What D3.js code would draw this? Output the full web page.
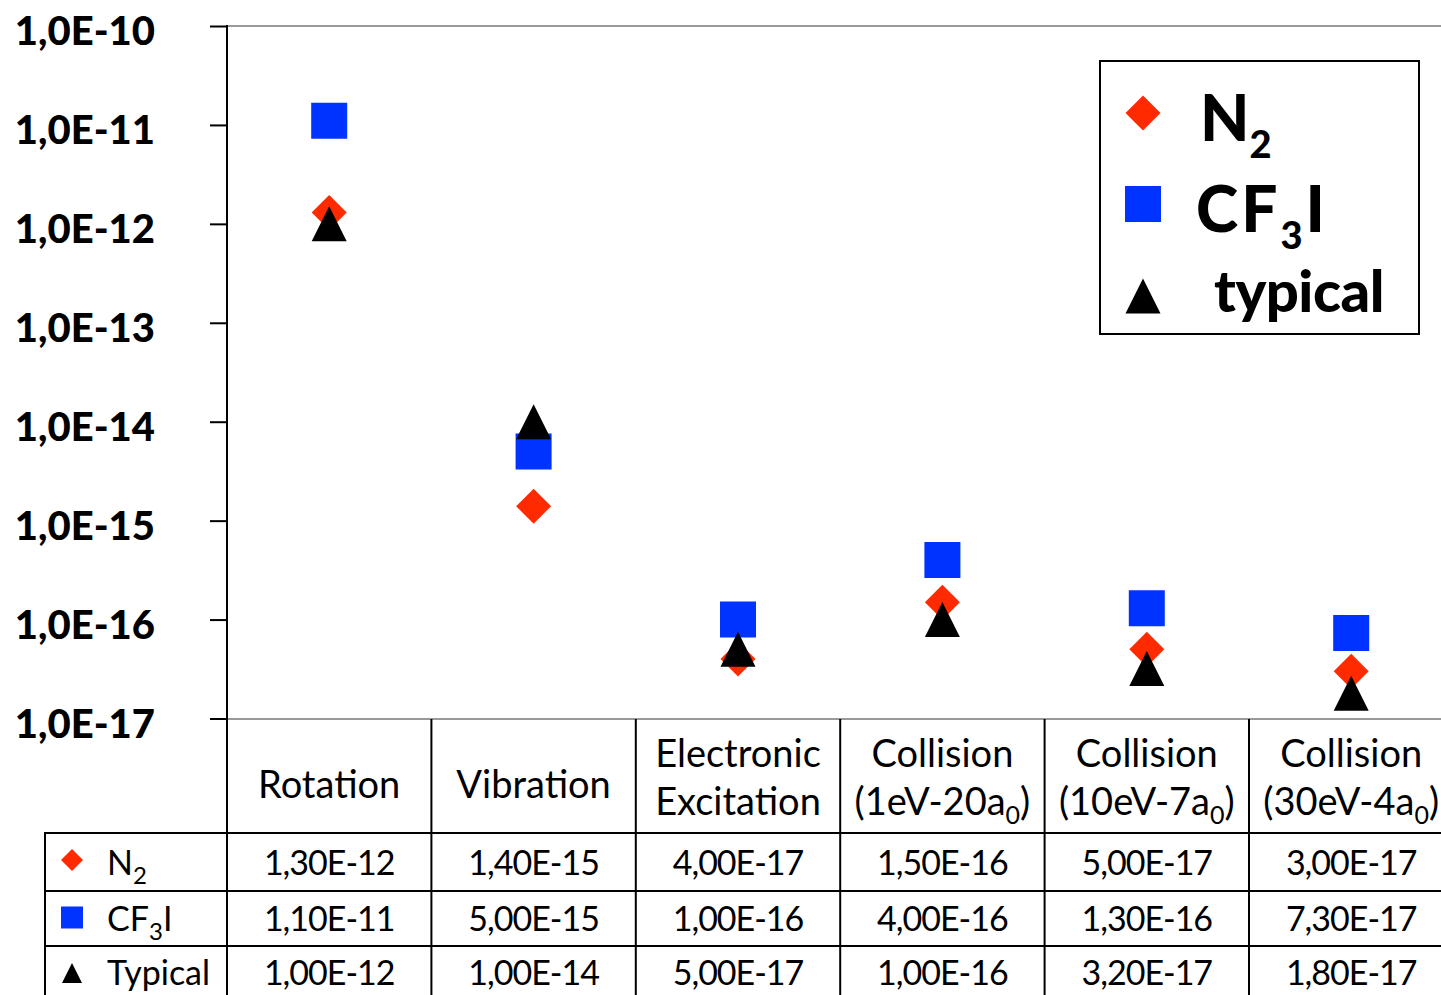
<!DOCTYPE html>
<html>
<head>
<meta charset="utf-8">
<script src="https://cdn.jsdelivr.net/npm/d3@7/dist/d3.min.js"></script>
<style>
  html, body { margin: 0; padding: 0; background: #fff; }
  svg { display: block; }
</style>
</head>
<body>
<svg id="chart" width="1441" height="995"></svg>
<script>
// ---------------- DATA ----------------
const categories = [
  ["Rotation"],
  ["Vibration"],
  ["Electronic", "Excitation"],
  ["Collision", "(1eV-20a_0)"],
  ["Collision", "(10eV-7a_0)"],
  ["Collision", "(30eV-4a_0)"]
];
const n2Values      = [1.3e-12, 1.4e-15, 4.0e-17, 1.5e-16, 5.0e-17, 3.0e-17];
const cf3iValues    = [1.1e-11, 5.0e-15, 1.0e-16, 4.0e-16, 1.3e-16, 7.3e-17];
const typicalValues = [1.0e-12, 1.0e-14, 5.0e-17, 1.0e-16, 3.2e-17, 1.8e-17];
const yTickValues   = [1e-10, 1e-11, 1e-12, 1e-13, 1e-14, 1e-15, 1e-16, 1e-17];
const seriesNames   = ["N2", "CF3I", "Typical"];

// ---------------- SETUP ----------------
const svg = d3.select("#chart");
const W = 1441, H = 995;
const FONT = "Lato, 'Open Sans', sans-serif";
const RED = "#ff2a00", BLUE = "#0033ff", BLACK = "#000";

const plotLeft = 227, colW = 204.4;
const plotRight = plotLeft + colW * categories.length;
const yTop = 26, yBottom = 718.5;

const x = d3.scaleBand().domain(d3.range(categories.length)).range([plotLeft, plotRight]).padding(0);
const y = d3.scaleLog().domain([1e-17, 1e-10]).range([yBottom, yTop]);

const sciFmt = (digits) => (v) => d3.format("." + digits + "e")(v).replace(".", ",").replace("e", "E");

// custom symbols
const diamondType = { draw(ctx, size) { const r = Math.sqrt(size) / 2; ctx.moveTo(0, -r); ctx.lineTo(r, 0); ctx.lineTo(0, r); ctx.lineTo(-r, 0); ctx.closePath(); } };
const triangleType = { draw(ctx, size) { const r = Math.sqrt(size) / 2; ctx.moveTo(0, -r); ctx.lineTo(r, r); ctx.lineTo(-r, r); ctx.closePath(); } };
const squareType = d3.symbolSquare;

const series = [
  { name: seriesNames[0], values: n2Values, type: diamondType, color: RED, size: 35 * 35 },
  { name: seriesNames[1], values: cf3iValues, type: squareType, color: BLUE, size: 36 * 36 },
  { name: seriesNames[2], values: typicalValues, type: triangleType, color: BLACK, size: 35 * 35 }
];

// ---------------- GRID / AXES ----------------
svg.append("line").attr("x1", plotLeft).attr("x2", W).attr("y1", y(1e-10)).attr("y2", y(1e-10))
  .attr("stroke", "#999").attr("stroke-width", 2);
svg.append("line").attr("x1", plotLeft).attr("x2", W).attr("y1", yBottom + 0.5).attr("y2", yBottom + 0.5)
  .attr("stroke", "#999").attr("stroke-width", 2);

const yAxis = d3.axisLeft(y).tickValues(yTickValues).tickFormat(sciFmt(1)).tickSize(17).tickPadding(55);
const gy = svg.append("g").attr("transform", `translate(${plotLeft},0)`).call(yAxis);
gy.select(".domain").remove();
gy.selectAll(".tick line").attr("stroke", BLACK).attr("stroke-width", 2);
gy.selectAll(".tick text")
  .attr("font-family", FONT).attr("font-weight", 900).attr("font-size", 40)
  .attr("fill", BLACK).attr("dy", "0.47em");

// ---------------- MARKERS ----------------
series.forEach(s => {
  svg.append("g").selectAll("path").data(s.values).join("path")
    .attr("d", d3.symbol().type(s.type).size(s.size))
    .attr("transform", (d, i) => `translate(${x(i) + x.bandwidth() / 2},${y(d)})`)
    .attr("fill", s.color);
});

// ---------------- LEGEND ----------------
function appendParts(textSel, parts, subSize, shift) {
  let shifted = false;
  parts.forEach(([str, sub]) => {
    const ts = textSel.append("tspan").text(str);
    if (sub) { ts.attr("font-size", subSize).attr("dy", shift); shifted = true; }
    else if (shifted) { ts.attr("dy", -shift); shifted = false; }
  });
}
function parseMarkup(str) {
  const out = [];
  const re = /_(.)/g; let last = 0, m;
  while ((m = re.exec(str)) !== null) {
    if (m.index > last) out.push([str.slice(last, m.index), false]);
    out.push([m[1], true]);
    last = m.index + 2;
  }
  if (last < str.length) out.push([str.slice(last), false]);
  return out;
}

const lg = svg.append("g");
lg.append("rect").attr("x", 1100).attr("y", 61).attr("width", 319).attr("height", 273)
  .attr("fill", "#fff").attr("stroke", BLACK).attr("stroke-width", 2);
const legendRows = [
  { s: series[0], cy: 113, tx: 1200, ty: 141, fs: 64, ls: 0, parts: [["N", false], ["2", true]] },
  { s: series[1], cy: 204, tx: 1196, ty: 232, fs: 64, ls: 3, parts: [["CF", false], ["3", true], ["I", false]] },
  { s: series[2], cy: 296, tx: 1214, ty: 312, fs: 58, ls: -0.5, parts: [["typical", false]] }
];
legendRows.forEach(r => {
  lg.append("path").attr("d", d3.symbol().type(r.s.type).size(r.s.size))
    .attr("transform", `translate(1143,${r.cy})`).attr("fill", r.s.color);
  const t = lg.append("text").attr("x", r.tx).attr("y", r.ty)
    .attr("font-family", FONT).attr("font-weight", 900).attr("font-size", r.fs)
    .attr("letter-spacing", r.ls).attr("fill", BLACK);
  appendParts(t, r.parts, 38, 17);
});

// ---------------- TABLE ----------------
const tbl = svg.append("g");
const headerTop = 719, rowTops = [833, 891, 946], tableBottom = H;
const tableLeft = 45;
const lineAttrs = (sel) => sel.attr("stroke", BLACK).attr("stroke-width", 2);

lineAttrs(tbl.append("line").attr("x1", plotLeft).attr("x2", plotLeft).attr("y1", yTop - 1).attr("y2", tableBottom));
d3.range(1, categories.length).forEach(i => {
  lineAttrs(tbl.append("line").attr("x1", x(i)).attr("x2", x(i)).attr("y1", headerTop).attr("y2", tableBottom));
});
lineAttrs(tbl.append("line").attr("x1", tableLeft).attr("x2", tableLeft).attr("y1", rowTops[0]).attr("y2", tableBottom));
rowTops.forEach(yy => lineAttrs(tbl.append("line").attr("x1", tableLeft - 1).attr("x2", W).attr("y1", yy).attr("y2", yy)));

const HFS = 38;
categories.forEach((lines, i) => {
  const cx = x(i) + x.bandwidth() / 2;
  const baselines = lines.length === 1 ? [798] : [767, 815];
  lines.forEach((ln, j) => {
    const t = tbl.append("text").attr("x", cx).attr("y", baselines[j]).attr("text-anchor", "middle")
      .attr("font-family", FONT).attr("font-size", HFS).attr("fill", BLACK);
    appendParts(t, parseMarkup(ln), 25, 9);
  });
});

const rowBaselines = [875, 931, 985];
const rowMarkerY = [860, 917.5, 973];
const rowMarkerSize = [22 * 22, 22 * 22, 20 * 20];
const rowLabelParts = [[["N", false], ["2", true]], [["CF", false], ["3", true], ["I", false]], [["Typical", false]]];
const VFS = 34;
series.forEach((s, r) => {
  tbl.append("path").attr("d", d3.symbol().type(s.type).size(rowMarkerSize[r]))
    .attr("transform", `translate(72,${rowMarkerY[r]})`).attr("fill", s.color);
  const t = tbl.append("text").attr("x", 107).attr("y", rowBaselines[r])
    .attr("font-family", FONT).attr("font-size", VFS).attr("fill", BLACK);
  appendParts(t, rowLabelParts[r], 24, 9);
  s.values.forEach((v, i) => {
    tbl.append("text").attr("x", x(i) + x.bandwidth() / 2).attr("y", rowBaselines[r])
      .attr("text-anchor", "middle").attr("font-family", FONT).attr("font-size", VFS)
      .attr("letter-spacing", -1).attr("fill", BLACK)
      .text(sciFmt(2)(v));
  });
});
</script>
</body>
</html>
